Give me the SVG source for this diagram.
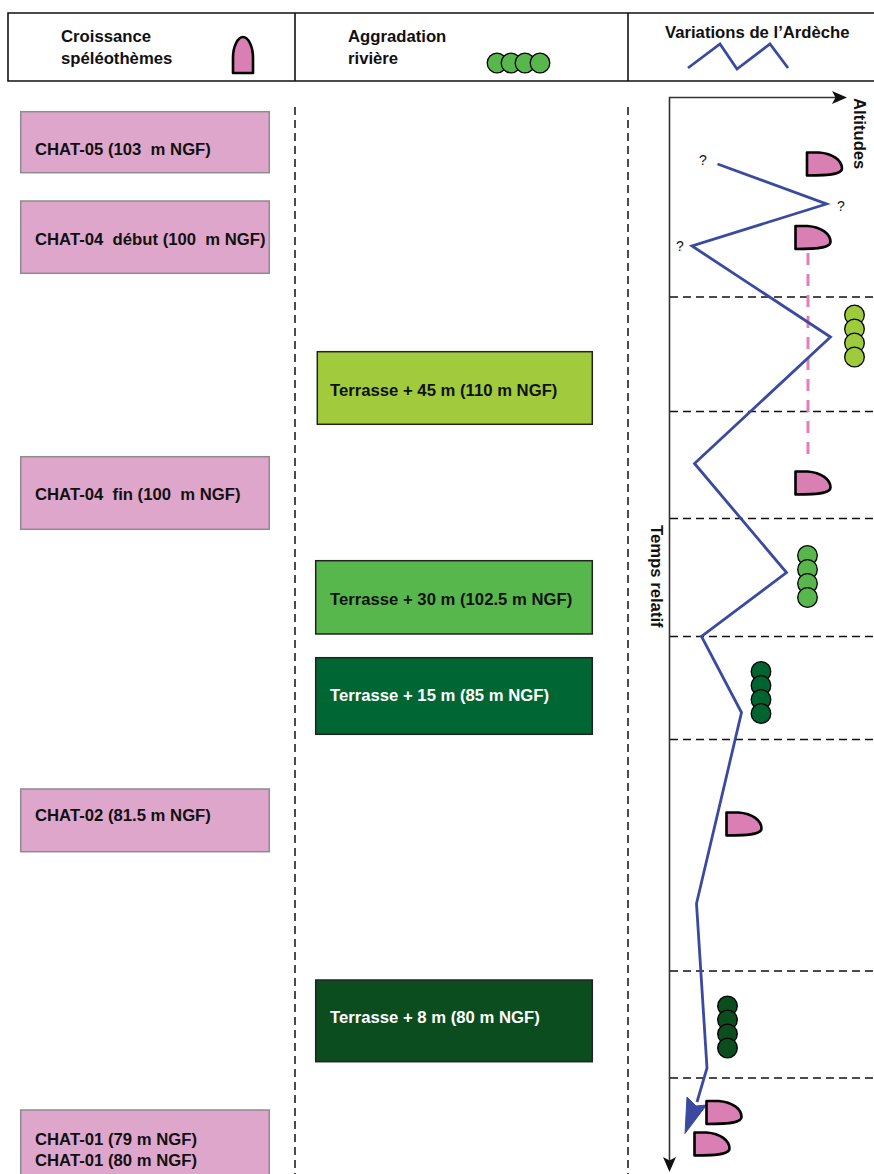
<svg xmlns="http://www.w3.org/2000/svg" width="874" height="1174" viewBox="0 0 874 1174" xml:space="preserve">
<style>
text{font-family:"Liberation Sans",Arial,sans-serif;font-weight:bold;font-size:16.7px;fill:#111;white-space:pre}
.q{font-weight:normal;font-size:14px}
.w{fill:#fff}
.pbox{fill:#dfa6cc;stroke:#8c8c8c;stroke-width:1.5}
.gbox{stroke:#222;stroke-width:1.5}
.dash{stroke:#111;stroke-width:1.5;stroke-dasharray:8 5;fill:none}
.axis{stroke:#333;stroke-width:1.6;fill:none}
.stal{fill:#d97fb4;stroke:#000;stroke-width:2.6;stroke-linejoin:round}
.c{stroke:#000;stroke-width:1.3}
.c1{fill:#9dcb3c}.c2{fill:#58b74c}.c3{fill:#006430}.c4{fill:#0b4d1c}
.river{stroke:#3a4aa0;stroke-width:2.8;fill:none;stroke-linejoin:miter}
</style>
<defs>
<path id="d" d="M0,0 L12,0 C26,1 35,8 35,16 C35,21 26,23 0,23 Z"/>
<g id="stack">
<circle cx="0" cy="0" r="9.8"/><circle cx="0" cy="14" r="9.8"/><circle cx="0" cy="28" r="9.8"/><circle cx="0" cy="42" r="9.8"/>
</g>
</defs>
<rect width="874" height="1174" fill="#fff"/>

<g id="header">
<path d="M880,13 H8 V81 H880" fill="none" stroke="#111" stroke-width="1.6"/>
<line x1="295" y1="13" x2="295" y2="81" stroke="#111" stroke-width="1.6"/>
<line x1="628" y1="13" x2="628" y2="81" stroke="#111" stroke-width="1.6"/>
<text x="61" y="42">Croissance</text>
<text x="61" y="64">spéléothèmes</text>
<path class="stal" d="M233,73 V58 C233,46 238,37 243,37 C248,37 253,46 253,58 V73 Z"/>
<text x="348" y="42">Aggradation</text>
<text x="348" y="64">rivière</text>
<g class="c c2">
<circle cx="497" cy="63" r="9.8"/><circle cx="511" cy="63" r="9.8"/><circle cx="525" cy="63" r="9.8"/><circle cx="540" cy="63" r="9.8"/>
</g>
<text x="665" y="38">Variations de l’Ardèche</text>
<polyline class="river" points="688,68 720,44 737,69 770,44 788,68"/>
</g>

<g id="separators">
<line class="dash" x1="295" y1="107" x2="295" y2="1174"/>
<line class="dash" x1="628" y1="107" x2="628" y2="1174"/>
<line class="dash" x1="670" y1="297" x2="874" y2="297"/>
<line class="dash" x1="670" y1="411.5" x2="874" y2="411.5"/>
<line class="dash" x1="670" y1="518.5" x2="874" y2="518.5"/>
<line class="dash" x1="670" y1="636.5" x2="874" y2="636.5"/>
<line class="dash" x1="670" y1="739.5" x2="874" y2="739.5"/>
<line class="dash" x1="670" y1="971" x2="874" y2="971"/>
<line class="dash" x1="670" y1="1078" x2="874" y2="1078"/>
</g>

<g id="chat05"><rect class="pbox" x="20.7" y="111.7" width="248.6" height="61"/><text x="35" y="155">CHAT-05 (103  m NGF)</text></g>
<g id="chat04debut"><rect class="pbox" x="20.7" y="201" width="248.6" height="72.3"/><text x="35" y="245">CHAT-04  début (100  m NGF)</text></g>
<g id="chat04fin"><rect class="pbox" x="20.7" y="456.7" width="248.6" height="72.6"/><text x="35" y="500">CHAT-04  fin (100  m NGF)</text></g>
<g id="chat02"><rect class="pbox" x="20.7" y="789" width="248.6" height="62.7"/><text x="35" y="821">CHAT-02 (81.5 m NGF)</text></g>
<g id="chat01"><rect class="pbox" x="20.7" y="1110" width="248.6" height="80"/><text x="35" y="1145">CHAT-01 (79 m NGF)</text><text x="35" y="1166">CHAT-01 (80 m NGF)</text></g>

<g id="t45"><rect class="gbox" x="317.3" y="351.7" width="275" height="72.6" fill="#a1cb3d"/><text x="330" y="396">Terrasse + 45 m (110 m NGF)</text></g>
<g id="t30"><rect class="gbox" x="315.7" y="560.7" width="276.6" height="73.3" fill="#58b74c"/><text x="330" y="605">Terrasse + 30 m (102.5 m NGF)</text></g>
<g id="t15"><rect class="gbox" x="315.7" y="657.7" width="276.6" height="76.6" fill="#006633"/><text class="w" x="330" y="701">Terrasse + 15 m (85 m NGF)</text></g>
<g id="t8"><rect class="gbox" x="315.7" y="980" width="276.6" height="81.7" fill="#0b4d1e"/><text class="w" x="330" y="1023">Terrasse + 8 m (80 m NGF)</text></g>

<g id="axes">
<path class="axis" d="M669.5,1166 V97.5 H836"/>
<path d="M847,97.5 L832,91 L835.5,97.5 L832,104 Z" fill="#111"/>
<path d="M669.5,1172 L663,1157 L669.5,1160.5 L676,1157 Z" fill="#111"/>
<text transform="translate(854,98) rotate(90)">Altitudes</text>
<text transform="translate(651,525) rotate(90)">Temps relatif</text>
</g>

<g id="connectors">
<line x1="808" y1="253" x2="808" y2="463" stroke="#e07fbb" stroke-width="3" stroke-dasharray="12 9"/>
<polyline class="river" points="717.5,164 826.5,204 692,246 830.5,337 694.5,463.5 786.5,572.5 701.5,636.5 741.5,712.5 696.5,903.5 707,1068 697,1102"/>
<path d="M685,1133.5 L687,1097 L696,1106 L706.5,1105 Z" fill="#3a4aa0" stroke="#3a4aa0" stroke-width="1"/>
</g>

<g id="markers">
<text class="q" x="699" y="165">?</text>
<text class="q" x="837" y="211">?</text>
<text class="q" x="676" y="251">?</text>
<use href="#d" class="stal" x="807" y="152.5"/>
<use href="#d" class="stal" x="795.5" y="226"/>
<use href="#d" class="stal" x="795.5" y="471.5"/>
<use href="#d" class="stal" x="726.5" y="812.5"/>
<use href="#d" class="stal" x="706.5" y="1101"/>
<use href="#d" class="stal" x="694.5" y="1132.5"/>
<use href="#stack" class="c c1" x="854.5" y="315"/>
<use href="#stack" class="c c2" x="807.5" y="555.5"/>
<use href="#stack" class="c c3" x="761" y="671.5"/>
<use href="#stack" class="c c4" x="727.5" y="1006"/>
</g>
</svg>
